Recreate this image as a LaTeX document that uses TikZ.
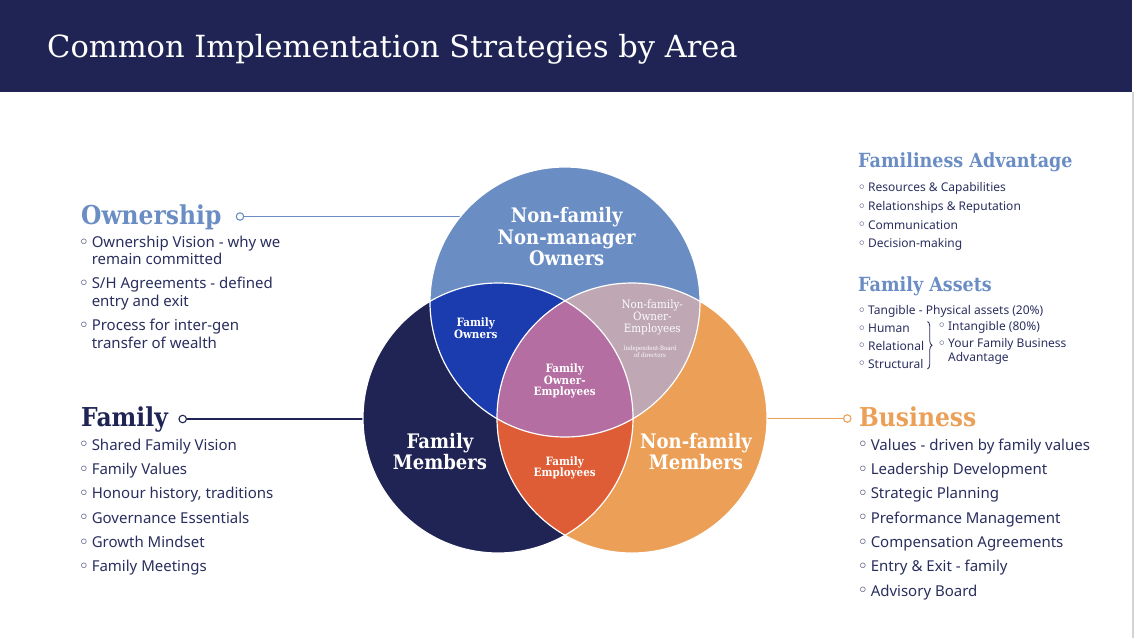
\documentclass[tikz,border=0pt]{standalone}
\usepackage{fontspec}
\setmainfont{Noto Sans}
\newfontfamily\titlefont{DejaVu Serif}
\newfontfamily\slabfont[FakeStretch=0.9]{DejaVu Serif}
\newfontfamily\symfont{DejaVu Sans}
\usepackage{tikz}
\usetikzlibrary{positioning,decorations.pathreplacing}
\definecolor{navy}{HTML}{1F2454}
\definecolor{ownblue}{HTML}{6A8DC4}
\definecolor{bizorange}{HTML}{EC9F56}
\definecolor{famown}{HTML}{1A3CAE}
\definecolor{nfoe}{HTML}{BFA8B4}
\definecolor{core}{HTML}{B46EA2}
\definecolor{famemp}{HTML}{DE5D37}
\definecolor{bodytext}{HTML}{2A2E5E}
\definecolor{edge_gray}{HTML}{D4D4D4}
\newcommand{\blt}{\makebox[0.87em][l]{\raisebox{-0.05em}{\scalebox{1.2}{\symfont\char"25E6}}}}
\newcommand{\twoline}[2]{\blt #1\\\hspace*{0.87em}\strut #2}
\tikzset{
title_text/.style={anchor=base west, inner sep=0, text=white, font=\titlefont\fontsize{30.5}{34}\selectfont},
head_big/.style={anchor=base west, inner sep=0, font=\slabfont\bfseries\fontsize{26}{30}\selectfont},
head_small/.style={anchor=base west, inner sep=0, text=ownblue, font=\slabfont\bfseries\fontsize{19.5}{22}\selectfont},
list_item/.style={anchor=north west, inner sep=0, align=left, text=bodytext, font=\fontsize{15}{17.5}\selectfont, execute at begin node=\strut},
list_small/.style={anchor=north west, inner sep=0, align=left, text=bodytext, font=\fontsize{12}{13.5}\selectfont, execute at begin node=\strut},
ring_marker/.style={circle, draw, line width=1.1pt, fill=white, minimum size=7.5pt, inner sep=0},
link_line/.style={line width=1.3pt},
venn_set/.style={circle, minimum size=270pt, inner sep=0},
venn_big/.style={text=white, align=center, inner sep=0, font=\slabfont\bfseries\fontsize{20}{21.7}\selectfont},
venn_small/.style={text=white, align=center, inner sep=0, font=\slabfont\bfseries\fontsize{11.5}{11.7}\selectfont},
venn_light/.style={text=white!95!nfoe, align=center, inner sep=0, font=\slabfont\fontsize{11.5}{11.7}\selectfont}
}
\begin{document}
\begin{tikzpicture}[x=1pt, y=-1pt]
    \useasboundingbox (0,0) rectangle (1137,638);
    \fill[navy] (0,0) rectangle (1132,92);
    \draw[edge_gray, line width=1.6pt] (1133,92) -- (1133,638);
    \node[title_text] (title) at (47,57) {Common Implementation Strategies by Area};

    \coordinate (own_c) at (565,302);
    \coordinate (fam_c) at (498,418);
    \coordinate (biz_c) at (632,418);

    \node[ring_marker, draw=ownblue] (own_ring) at (240,216.5) {};
    \node[ring_marker, draw=navy] (fam_ring) at (182.7,419) {};
    \node[ring_marker, draw=bizorange] (biz_ring) at (847.3,418.5) {};
    \draw[link_line, ownblue] (own_ring) -- (own_ring -| own_c);
    \draw[link_line, navy] (fam_ring) -- (fam_ring -| fam_c);
    \draw[link_line, bizorange] (biz_ring) -- (biz_ring -| biz_c);

    \node[venn_set, fill=ownblue] (own_set) at (own_c) {};
    \node[venn_set, fill=navy] (fam_set) at (fam_c) {};
    \node[venn_set, fill=bizorange] (biz_set) at (biz_c) {};
    \begin{scope}
        \clip (fam_c) circle (135pt);
        \fill[famown] (own_c) circle (135pt);
        \fill[famemp] (biz_c) circle (135pt);
    \end{scope}
    \begin{scope}
        \clip (own_c) circle (135pt);
        \fill[nfoe] (biz_c) circle (135pt);
        \clip (fam_c) circle (135pt);
        \fill[core] (biz_c) circle (135pt);
    \end{scope}
    \foreach \c in {own_c, fam_c, biz_c}
        \draw[white, line width=1.2pt] (\c) circle (135pt);

    \node[venn_big] (nfnm_label) at (566.7,236.8) {Non-family\\Non-manager\\Owners};
    \node[venn_big] (fm_label) at (440,451.4) {Family\\Members};
    \node[venn_big] (nfm_label) at (696,451.4) {Non-family\\Members};
    \node[venn_small] (fo_label) at (475.7,328.2) {Family\\Owners};
    \node[venn_small] (foe_label) at (564.7,381) {Family\\Owner-\\Employees};
    \node[venn_small] (fe_label) at (564.7,467.8) {Family\\Employees};
    \node[venn_light] (nfoe_label) at (652.3,317.5) {Non-family-\\Owner-\\Employees};
    \node[venn_light, font=\slabfont\fontsize{6}{6.7}\selectfont] (board_label) at (650,352) {Independent-Board\\of directors};

    \node[head_big, text=ownblue] (own_head) at (81,224) {Ownership};
    \node[list_item] (own_1) at (78.5,235.75) {\twoline{Ownership Vision - why we}{remain committed}};
    \node[list_item, below=7pt of own_1.south west, anchor=north west] (own_2) {\twoline{S/H Agreements - defined}{entry and exit}};
    \node[list_item, below=7pt of own_2.south west, anchor=north west] (own_3) {\twoline{Process for inter-gen}{transfer of wealth}};

    \node[head_big, text=navy] (fam_head) at (81,426) {Family};
    \node[list_item] (fam_1) at (78.5,437.75) {\blt Shared Family Vision};
    \node[list_item, below=6.4pt of fam_1.south west, anchor=north west] (fam_2) {\blt Family Values};
    \node[list_item, below=6.4pt of fam_2.south west, anchor=north west] (fam_3) {\blt Honour history, traditions};
    \node[list_item, below=6.4pt of fam_3.south west, anchor=north west] (fam_4) {\blt Governance Essentials};
    \node[list_item, below=6.4pt of fam_4.south west, anchor=north west] (fam_5) {\blt Growth Mindset};
    \node[list_item, below=6.4pt of fam_5.south west, anchor=north west] (fam_6) {\blt Family Meetings};

    \node[head_small] (fa_head) at (858,167.3) {Familiness Advantage};
    \node[list_small] (fa_1) at (857.5,182.2) {\blt Resources \& Capabilities};
    \node[list_small, below=4.7pt of fa_1.south west, anchor=north west] (fa_2) {\blt Relationships \& Reputation};
    \node[list_small, below=4.7pt of fa_2.south west, anchor=north west] (fa_3) {\blt Communication};
    \node[list_small, below=4.7pt of fa_3.south west, anchor=north west] (fa_4) {\blt Decision-making};

    \node[head_small] (as_head) at (858,291) {Family Assets};
    \node[list_small] (as_1) at (857.5,304.9) {\blt Tangible - Physical assets (20\%)};
    \node[list_small, below=4pt of as_1.south west, anchor=north west] (as_2) {\blt Human};
    \node[list_small, below=4pt of as_2.south west, anchor=north west] (as_3) {\blt Relational};
    \node[list_small, below=4pt of as_3.south west, anchor=north west] (as_4) {\blt Structural};
    \coordinate (brace_top) at (927.5,321.5);
    \coordinate (brace_bot) at (927.5,369);
    \draw[bodytext, line width=0.8pt, decorate, decoration={brace, amplitude=4.5pt}] (brace_top) -- (brace_bot);
    \node[list_small] (ig_1) at (937.5,320.5) {\blt Intangible (80\%)};
    \node[list_small, below=4.2pt of ig_1.south west, anchor=north west] (ig_2) {\twoline{Your Family Business}{Advantage}};

    \node[head_big, text=bizorange] (biz_head) at (859,426) {Business};
    \node[list_item] (biz_1) at (857.5,437.75) {\blt Values - driven by family values};
    \node[list_item, below=6.4pt of biz_1.south west, anchor=north west] (biz_2) {\blt Leadership Development};
    \node[list_item, below=6.4pt of biz_2.south west, anchor=north west] (biz_3) {\blt Strategic Planning};
    \node[list_item, below=6.4pt of biz_3.south west, anchor=north west] (biz_4) {\blt Preformance Management};
    \node[list_item, below=6.4pt of biz_4.south west, anchor=north west] (biz_5) {\blt Compensation Agreements};
    \node[list_item, below=6.4pt of biz_5.south west, anchor=north west] (biz_6) {\blt Entry \& Exit - family};
    \node[list_item, below=6.4pt of biz_6.south west, anchor=north west] (biz_7) {\blt Advisory Board};
\end{tikzpicture}
\end{document}
